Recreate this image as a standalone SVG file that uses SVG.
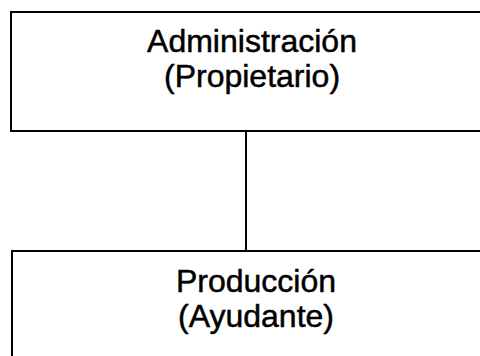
<svg xmlns="http://www.w3.org/2000/svg" width="480" height="356" viewBox="0 0 480 356">
<style>
.box{fill:#fff;stroke:#000;stroke-width:2}
.lbl{font-family:"Liberation Sans",Arial,sans-serif;font-size:32px;fill:#000;stroke:#000;stroke-width:0.5;text-anchor:middle}
.conn{stroke:#000;stroke-width:2;fill:none}
</style>
<rect width="480" height="356" fill="#fff"/>
<g id="connectors">
<line class="conn" x1="246" y1="131" x2="246" y2="251"/>
</g>
<g id="admin">
<rect class="box" x="11" y="12" width="490" height="119"/>
<text class="lbl" x="252" y="52">Administración</text>
<text class="lbl" x="252" y="87">(Propietario)</text>
</g>
<g id="produccion">
<rect class="box" x="12" y="251" width="490" height="130"/>
<text class="lbl" x="256" y="292">Producción</text>
<text class="lbl" x="256" y="327">(Ayudante)</text>
</g>
</svg>
